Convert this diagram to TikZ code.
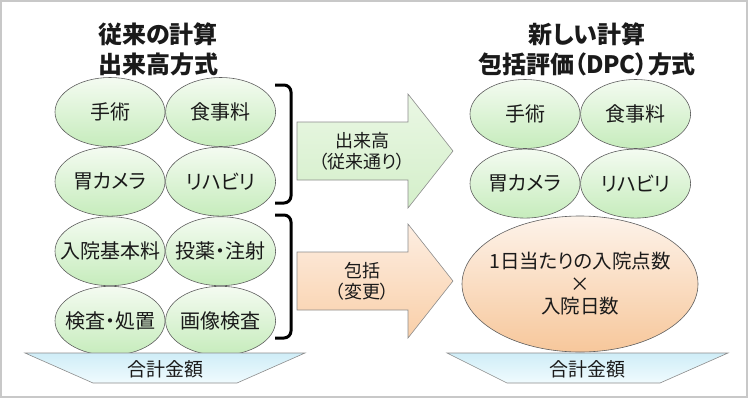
\documentclass[tikz,border=0pt]{standalone}
\usepackage{fontspec}
\setmainfont{Noto Sans CJK JP}[RawFeature=+palt]
\usetikzlibrary{shapes.geometric,positioning}

\definecolor{framec}{HTML}{C8C8C8}
\definecolor{lineg}{HTML}{5E5E5E}
\definecolor{lineh}{HTML}{8C8C8C}
\definecolor{greentop}{HTML}{F4FBF1}
\definecolor{greenbot}{HTML}{C6ECBC}
\definecolor{garrtop}{HTML}{EAF7E4}
\definecolor{garrbot}{HTML}{D4EFCA}
\definecolor{oarrtop}{HTML}{FDEEE2}
\definecolor{oarrbot}{HTML}{F9CFA8}
\definecolor{orangetop}{HTML}{FDF3EA}
\definecolor{orangebot}{HTML}{F7C79B}
\definecolor{sumtop}{HTML}{CFEDF7}
\definecolor{sumbot}{HTML}{F0FBFE}
\definecolor{textc}{HTML}{1A1A1A}

\begin{document}
\begin{tikzpicture}[x=1pt,y=-1pt,node distance=0pt,text=textc,
  title/.style={align=center,font=\fontsize{24}{30}\selectfont\bfseries},
  item/.style={ellipse,draw=lineg,line width=0.6pt,top color=greentop,bottom color=greenbot,
    minimum width=110pt,minimum height=69pt,inner xsep=-14pt,inner ysep=0pt,font=\fontsize{20}{22}\selectfont},
  big/.style={ellipse,draw=lineg,line width=0.6pt,top color=orangetop,bottom color=orangebot,
    minimum width=236pt,minimum height=136pt,inner xsep=-22pt,inner ysep=0pt,align=center,font=\fontsize{19.5}{22.5}\selectfont},
  brace/.style={line width=3pt,rounded corners=7pt},
  garrow/.style={draw=lineh,line width=0.6pt,top color=garrtop,bottom color=garrbot},
  oarrow/.style={draw=lineh,line width=0.6pt,top color=oarrtop,bottom color=oarrbot},
  atext/.style={align=center,font=\fontsize{18}{21}\selectfont},
  total/.style={draw=lineh,line width=0.6pt,top color=sumtop,bottom color=sumbot},
  ttext/.style={font=\fontsize{19}{22}\selectfont}]
\useasboundingbox (0,0) rectangle (750,400);
\draw[framec,line width=1.5pt] (1,1) rectangle (747,397);

% titles
\node[title] (oldt) at (158,49) {従来の計算\\出来高方式};
\node[title] (newt) at (587,49) {新しい計算\\包括評価（DPC）方式};

% old items
\node[item] (o1) at (110,112) {手術};
\node[item] (o2) [right=of o1] {食事料};
\node[item] (o3) [below=of o1] {胃カメラ};
\node[item] (o4) [right=of o3] {リハビリ};
\node[item] (o5) [below=of o3] {入院基本料};
\node[item] (o6) [right=of o5] {投薬・注射};
\node[item] (o7) [below=of o5] {検査・処置};
\node[item] (o8) [right=of o7] {画像検査};

% brackets
\draw[brace] (275,85) -- (291,85) -- (291,203) -- (275,203);
\draw[brace] (275,215) -- (291,215) -- (291,338) -- (275,338);

% arrows
\draw[garrow] (297,122) -- (408,122) -- (408,94) -- (453,151) -- (408,208) -- (408,180) -- (297,180) -- cycle;
\node[atext] (keep) at (362,151) {出来高\\（従来通り）};
\draw[oarrow] (297,252) -- (408,252) -- (408,224) -- (453,281) -- (408,338) -- (408,310) -- (297,310) -- cycle;
\node[atext] (pkg) at (362,281) {包括\\（変更）};

% new items
\node[item] (n1) at (525,114) {手術};
\node[item] (n2) [right=of n1] {食事料};
\node[item] (n3) [below=of n1] {胃カメラ};
\node[item] (n4) [right=of n3] {リハビリ};
\node[big] (dpc) at (580,284) {1日当たりの入院点数\\×\\入院日数};

% totals
\draw[total] (25,353) -- (305,353) -- (237,383) -- (93,383) -- cycle;
\node[ttext] (sum1) at (165,369) {合計金額};
\draw[total] (447,353) -- (728,353) -- (660,383) -- (507,383) -- cycle;
\node[ttext] (sum2) at (587,369) {合計金額};
\end{tikzpicture}
\end{document}
